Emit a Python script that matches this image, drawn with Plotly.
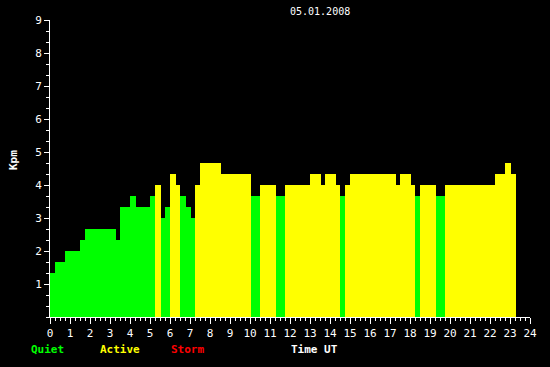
import plotly.graph_objects as go

# Segment start/end times (hours UT) and Kp values
seg_start = [0, 0.25, 0.75, 1.5, 1.75, 3.3, 3.5, 4.0, 4.3, 5.0, 5.25, 5.55, 5.75, 6.0,
             6.3, 6.5, 6.8, 7.05, 7.25, 7.5, 8.55, 10.05, 10.5, 11.3, 11.75, 13.0, 13.55,
             13.75, 14.3, 14.5, 14.75, 15.0, 17.3, 17.5, 18.05, 18.25, 18.5, 19.3, 19.75,
             22.25, 22.75, 23.05]
seg_end = seg_start[1:] + [23.3]
kp = [1.333, 1.667, 2.0, 2.333, 2.667, 2.333, 3.333, 3.667, 3.333, 3.667, 4.0, 3.0, 3.333,
      4.333, 4.0, 3.667, 3.333, 3.0, 4.0, 4.667, 4.333, 3.667, 4.0, 3.667, 4.0, 4.333, 4.0,
      4.333, 4.0, 3.667, 4.0, 4.333, 4.0, 4.333, 4.0, 3.667, 4.0, 3.667, 4.0, 4.333, 4.667,
      4.333]

x_ticks = list(range(0, 25))
y_ticks = list(range(1, 10))

GREEN, YELLOW, RED = "#00ff00", "#ffff00", "#ff0000"


def color_for(v):
    if v >= 5:
        return RED
    if v >= 4:
        return YELLOW
    return GREEN


centers = [(a + b) / 2 for a, b in zip(seg_start, seg_end)]
widths = [b - a for a, b in zip(seg_start, seg_end)]
colors = [color_for(v) for v in kp]

fig = go.Figure(go.Bar(x=centers, y=kp, width=widths, marker_color=colors,
                       marker_line_width=0, hoverinfo="skip"))

W, H = 550, 367
L, R, T, B = 50, 20, 20, 50
FONT = "DejaVu Sans Mono"

fig.update_layout(
    width=W, height=H,
    margin=dict(l=L, r=R, t=T, b=B),
    paper_bgcolor="black", plot_bgcolor="black",
    showlegend=False,
    font=dict(family=FONT, color="white", size=11),
    xaxis=dict(range=[0, 24], tickvals=x_ticks, ticktext=[str(v) for v in x_ticks],
               ticks="outside", ticklen=6, tickcolor="white", tickwidth=1,
               showline=True, linecolor="white", linewidth=1, showgrid=False,
               zeroline=False, tickfont=dict(size=11, color="white", family=FONT),
               minor=dict(tickvals=[i * 0.25 for i in range(97)], ticks="outside",
                          ticklen=3, tickcolor="white", showgrid=False)),
    yaxis=dict(range=[0, 9], tickvals=y_ticks, ticktext=[str(v) for v in y_ticks],
               ticks="outside", ticklen=5, tickcolor="white", tickwidth=1,
               showline=True, linecolor="white", linewidth=1, showgrid=False,
               zeroline=False, tickfont=dict(size=11, color="white", family=FONT),
               minor=dict(tickvals=[i / 3 for i in range(28)], ticks="outside",
                          ticklen=3, tickcolor="white", showgrid=False)),
)

pw, ph = W - L - R, H - T - B


def px(x):
    return (x - L) / pw


def py(y):
    return (H - B - y) / ph


ann = [
    dict(text="05.01.2008", x=px(320), y=py(12), size=10, bold=False, color="white", angle=0),
    dict(text="Kpm", x=px(13), y=py(160), size=11, bold=True, color="white", angle=-90),
    dict(text="Quiet", x=px(47), y=py(349), size=11, bold=True, color=GREEN, angle=0),
    dict(text="Active", x=px(120), y=py(349), size=11, bold=True, color=YELLOW, angle=0),
    dict(text="Storm", x=px(187), y=py(349), size=11, bold=True, color=RED, angle=0),
    dict(text="Time UT", x=px(314), y=py(349), size=11, bold=True, color="white", angle=0),
]
for a in ann:
    txt = f"<b>{a['text']}</b>" if a["bold"] else a["text"]
    fig.add_annotation(text=txt, x=a["x"], y=a["y"], xref="paper", yref="paper",
                       xanchor="center", yanchor="middle", showarrow=False,
                       textangle=a["angle"],
                       font=dict(family=FONT, size=a["size"], color=a["color"]))

fig.write_html("out.html")
